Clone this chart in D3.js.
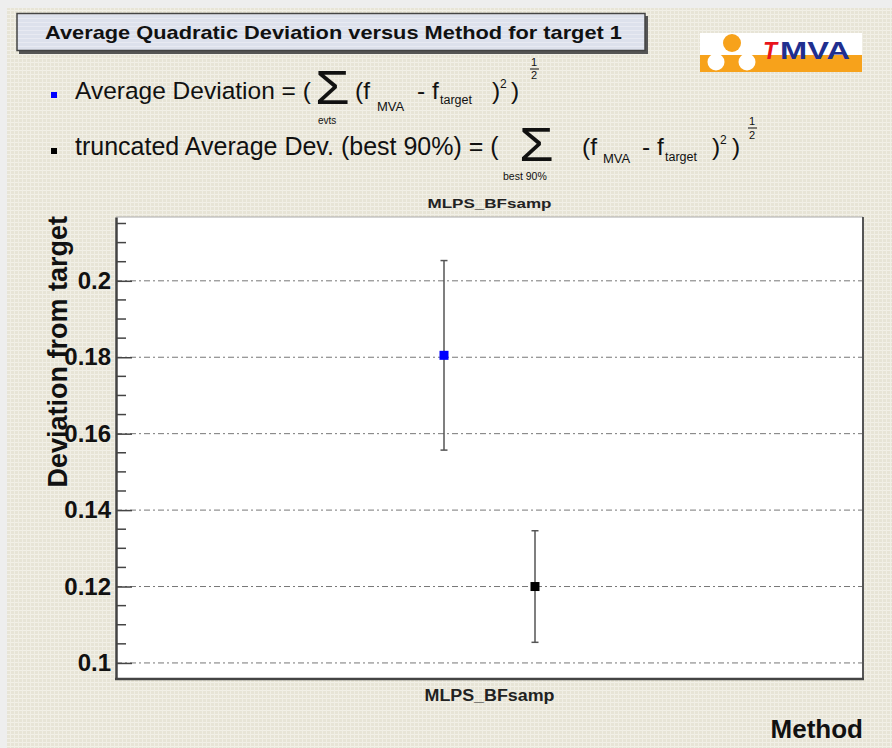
<!DOCTYPE html>
<html>
<head>
<meta charset="utf-8">
<script src="https://cdn.jsdelivr.net/npm/d3@7/dist/d3.min.js"></script>
<style>
  html, body { margin: 0; padding: 0; background: #eeeeee; }
  svg { display: block; font-family: "Liberation Sans", Arial, Helvetica, sans-serif; }
</style>
</head>
<body>
<svg id="chart" width="892" height="748"></svg>
<script>
// ---- data ----
const methods = ["MLPS_BFsamp"];
const seriesKeys = ["avg", "trunc"];
const seriesColors = ["#0000ff", "#000000"];
const avgDeviation = [0.1805];
const avgDeviationErr = [0.0248];
const truncDeviation = [0.1200];
const truncDeviationErr = [0.0146];
const yTickValues = [0.1, 0.12, 0.14, 0.16, 0.18, 0.2];
const yTickLabels = ["0.1", "0.12", "0.14", "0.16", "0.18", "0.2"];
const yDomain = [0.0958, 0.2167];

const W = 892, H = 748;
const frame = { left: 116, right: 863, top: 217, bottom: 679 };

const svg = d3.select("#chart");

// grainy canvas background
const defs = svg.append("defs");
const pat = defs.append("pattern").attr("id", "canvasPat")
  .attr("width", 4).attr("height", 4).attr("patternUnits", "userSpaceOnUse");
pat.append("rect").attr("width", 4).attr("height", 4).attr("fill", "#e7e4d6");
pat.append("rect").attr("x", 0).attr("y", 2).attr("width", 4).attr("height", 1).attr("fill", "#f2f0e8");
pat.append("rect").attr("x", 2).attr("y", 0).attr("width", 1).attr("height", 4).attr("fill", "#f0eee4");

const padPat = defs.append("pattern").attr("id", "padPat")
  .attr("width", 4).attr("height", 4).attr("patternUnits", "userSpaceOnUse");
padPat.append("rect").attr("width", 4).attr("height", 4).attr("fill", "#dde1ec");
padPat.append("rect").attr("x", 0).attr("y", 2).attr("width", 4).attr("height", 1).attr("fill", "#e8eaf2");

svg.append("rect").attr("width", W).attr("height", H).attr("fill", "#eeeeee");
svg.append("rect").attr("x", 7).attr("y", 8).attr("width", W - 7).attr("height", H - 8)
  .attr("fill", "url(#canvasPat)");

// ---- scales ----
const x = d3.scaleBand().domain(methods).range([frame.left, frame.right]).padding(0);
const xSeries = d3.scalePoint().domain(seriesKeys).range([-45.5, 45.5]);
const y = d3.scaleLinear().domain(yDomain).range([frame.bottom, frame.top]);

// plot area
svg.append("rect")
  .attr("x", frame.left).attr("y", frame.top)
  .attr("width", frame.right - frame.left).attr("height", frame.bottom - frame.top)
  .attr("fill", "#ffffff");

// horizontal grid
svg.append("g").selectAll("line").data(yTickValues).join("line")
  .attr("x1", frame.left).attr("x2", frame.right)
  .attr("y1", d => y(d)).attr("y2", d => y(d))
  .attr("stroke", "#777").attr("stroke-width", 1)
  .attr("stroke-dasharray", "6,3,2,3");

// frame
svg.append("line").attr("x1", frame.left).attr("x2", frame.right)
  .attr("y1", frame.top).attr("y2", frame.top).attr("stroke", "#aaa").attr("stroke-width", 1);
svg.append("line").attr("x1", frame.right).attr("x2", frame.right)
  .attr("y1", frame.top).attr("y2", frame.bottom).attr("stroke", "#555").attr("stroke-width", 2);
svg.append("line").attr("x1", frame.left - 1).attr("x2", frame.right + 1)
  .attr("y1", frame.bottom).attr("y2", frame.bottom).attr("stroke", "#444").attr("stroke-width", 2.5);

// y axis with inward ticks
const yAxis = d3.axisLeft(y).tickValues(yTickValues)
  .tickFormat((d, i) => yTickLabels[i]).tickSizeInner(-16).tickSizeOuter(0);
const gy = svg.append("g").attr("transform", `translate(${frame.left},0)`).call(yAxis);
gy.select(".domain").attr("stroke", "#444").attr("stroke-width", 2.5);
gy.selectAll(".tick line").attr("stroke", "#444").attr("stroke-width", 1.5);
gy.selectAll(".tick text")
  .attr("x", -5)
  .attr("font-family", "Liberation Sans, Arial, sans-serif")
  .attr("font-size", 24).attr("font-weight", "bold").attr("fill", "#111");

const minorTicks = d3.range(0.1, 0.2151, 0.005).filter(v => !yTickValues.some(t => Math.abs(t - v) < 1e-6));
svg.append("g").selectAll("line").data(minorTicks).join("line")
  .attr("x1", frame.left).attr("x2", frame.left + 10)
  .attr("y1", d => y(d)).attr("y2", d => y(d))
  .attr("stroke", "#444").attr("stroke-width", 1.5);

// error bars and markers
const points = [
  { key: "avg", values: avgDeviation, errs: avgDeviationErr },
  { key: "trunc", values: truncDeviation, errs: truncDeviationErr }
];
points.forEach((s, si) => {
  const g = svg.append("g");
  methods.forEach((m, i) => {
    const cx = x(m) + x.bandwidth() / 2 + xSeries(s.key);
    const v = s.values[i], e = s.errs[i];
    g.append("line").attr("x1", cx).attr("x2", cx)
      .attr("y1", y(v - e)).attr("y2", y(v + e))
      .attr("stroke", "#555").attr("stroke-width", 1.5);
    [v - e, v + e].forEach(ev => {
      g.append("line").attr("x1", cx - 3.5).attr("x2", cx + 3.5)
        .attr("y1", y(ev)).attr("y2", y(ev))
        .attr("stroke", "#555").attr("stroke-width", 1.5);
    });
    g.append("rect").attr("x", cx - 4.5).attr("y", y(v) - 4.5)
      .attr("width", 9).attr("height", 9).attr("fill", seriesColors[si]);
  });
});

// category labels above and below the frame
svg.append("g").selectAll("text").data(methods).join("text")
  .attr("x", d => x(d) + x.bandwidth() / 2).attr("y", 208)
  .attr("text-anchor", "middle").attr("font-size", 12.5).attr("font-weight", "bold")
  .attr("textLength", 124).attr("lengthAdjust", "spacingAndGlyphs")
  .attr("fill", "#222").text(d => d);
svg.append("g").selectAll("text").data(methods).join("text")
  .attr("x", d => x(d) + x.bandwidth() / 2).attr("y", 701)
  .attr("text-anchor", "middle").attr("font-size", 16).attr("font-weight", "bold")
  .attr("textLength", 130).attr("lengthAdjust", "spacingAndGlyphs")
  .attr("fill", "#222").text(d => d);

// axis titles
svg.append("text").attr("transform", "translate(67,216) rotate(-90)")
  .attr("text-anchor", "end").attr("font-size", 27).attr("font-weight", "bold")
  .attr("fill", "#111").text("Deviation from target");
svg.append("text").attr("x", 863).attr("y", 738)
  .attr("text-anchor", "end").attr("font-size", 26).attr("font-weight", "bold")
  .attr("fill", "#111").text("Method");

// title box
svg.append("rect").attr("x", 19).attr("y", 16).attr("width", 629).attr("height", 38).attr("fill", "#555");
svg.append("rect").attr("x", 17).attr("y", 13.5).attr("width", 628).attr("height", 37)
  .attr("fill", "url(#padPat)").attr("stroke", "#444").attr("stroke-width", 1.5);
svg.append("text").attr("x", 45).attr("y", 39)
  .attr("font-size", 19).attr("font-weight", "bold").attr("fill", "#111")
  .attr("textLength", 577).attr("lengthAdjust", "spacingAndGlyphs")
  .text("Average Quadratic Deviation versus Method for target 1");

// TMVA logo
const logo = svg.append("g");
logo.append("rect").attr("x", 700).attr("y", 33).attr("width", 162).attr("height", 22).attr("fill", "#ffffff");
logo.append("rect").attr("x", 700).attr("y", 55).attr("width", 162).attr("height", 17).attr("fill", "#f7a21b");
logo.append("circle").attr("cx", 732).attr("cy", 43).attr("r", 9).attr("fill", "#f7a21b");
logo.append("circle").attr("cx", 716).attr("cy", 62).attr("r", 8.5).attr("fill", "#ffffff");
logo.append("circle").attr("cx", 747).attr("cy", 62).attr("r", 8.5).attr("fill", "#ffffff");
logo.append("text").attr("x", 763).attr("y", 59).attr("font-size", 23).attr("font-weight", "bold")
  .attr("font-style", "italic").attr("fill", "#e8141b").text("T");
logo.append("text").attr("x", 780).attr("y", 59).attr("font-size", 23).attr("font-weight", "bold")
  .attr("textLength", 70).attr("lengthAdjust", "spacingAndGlyphs")
  .attr("fill", "#1f2f8f").text("MVA");

// legend with formulas
const leg = svg.append("g").attr("fill", "#111");
leg.append("rect").attr("x", 51).attr("y", 92).attr("width", 6).attr("height", 6).attr("fill", seriesColors[0]);
leg.append("rect").attr("x", 51).attr("y", 148).attr("width", 6).attr("height", 6).attr("fill", seriesColors[1]);

function t(xp, yp, size, str) {
  return leg.append("text").attr("x", xp).attr("y", yp).attr("font-size", size).text(str);
}
function sigma(xp, yp) {
  return leg.append("text").attr("transform", `translate(${xp},${yp}) scale(1.25,1.05)`)
    .attr("font-size", 45).text("\u03A3");
}
// line 1
t(75, 99, 24.5, "Average Deviation = (");
sigma(315, 104);
t(318, 124, 10, "evts");
t(355, 99, 24.5, "(f");
t(377, 111, 13, "MVA");
t(417, 99, 24.5, "- f");
t(440, 104, 12.5, "target");
t(492, 99, 24.5, ")");
t(500, 88, 12, "2");
t(511, 99, 24.5, ")");
t(531, 66, 11, "1");
leg.append("line").attr("x1", 530).attr("x2", 539).attr("y1", 69).attr("y2", 69).attr("stroke", "#111").attr("stroke-width", 1);
t(531, 79, 11, "2");
// line 2
t(75, 155, 25, "truncated Average Dev. (best 90%) = (");
sigma(519, 161);
t(503, 180, 10.5, "best 90%");
t(582, 155, 24.5, "(f");
t(603, 163, 13, "MVA");
t(642, 155, 24.5, "- f");
t(665, 161, 12.5, "target");
t(712, 155, 24.5, ")");
t(720, 144, 12, "2");
t(732, 155, 24.5, ")");
t(749, 125, 11, "1");
leg.append("line").attr("x1", 748).attr("x2", 757).attr("y1", 128).attr("y2", 128).attr("stroke", "#111").attr("stroke-width", 1);
t(749, 139, 11, "2");
</script>
</body>
</html>
